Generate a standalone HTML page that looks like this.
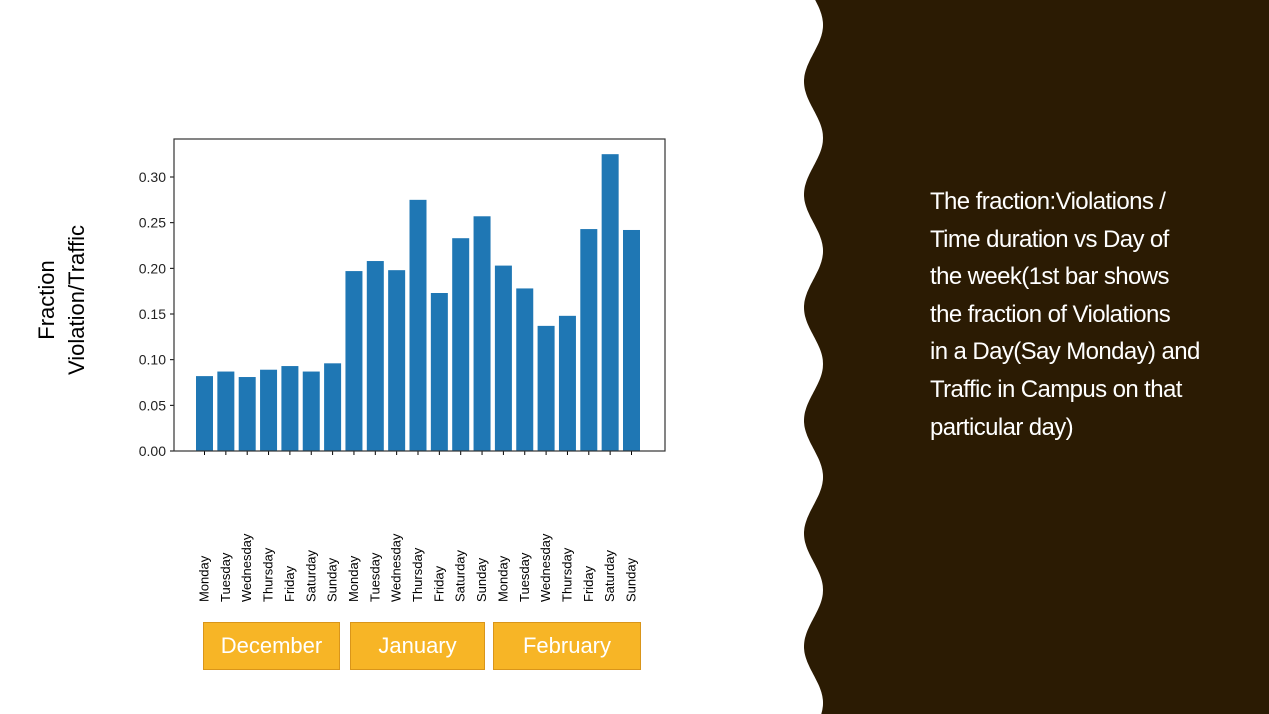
<!DOCTYPE html>
<html><head><meta charset="utf-8"><style>
body{margin:0;width:1269px;height:714px;overflow:hidden;background:#fff;font-family:"Liberation Sans",sans-serif;position:relative}
.month{position:absolute;top:622px;height:48px;background:#f7b526;border:1px solid #d9951a;color:#fff;font-size:22px;display:flex;align-items:center;justify-content:center;box-sizing:border-box}
</style></head><body>
<svg width="1269" height="714" style="position:absolute;left:0;top:0">
<path id="wave" fill="#2b1b03"/>
<g id="chart"></g>
<text transform="translate(54,300) rotate(-90)" text-anchor="middle" font-size="22" fill="#000">Fraction</text>
<text transform="translate(84,300) rotate(-90)" text-anchor="middle" font-size="22" fill="#000">Violation/Traffic</text>
</svg>
<div class="month" style="left:203px;width:137px">December</div>
<div class="month" style="left:350px;width:135px">January</div>
<div class="month" style="left:493px;width:148px">February</div>
<div style="position:absolute;left:930px;top:183px;color:#fff;font-size:24px;line-height:37.6px;white-space:nowrap;letter-spacing:-0.6px">The fraction:Violations /<br>Time duration vs Day of<br>the week(1st bar shows<br>the fraction of Violations<br>in a Day(Say Monday) and<br>Traffic in Campus on that<br>particular day)</div>
<script>
const categories=["Monday","Tuesday","Wednesday","Thursday","Friday","Saturday","Sunday","Monday","Tuesday","Wednesday","Thursday","Friday","Saturday","Sunday","Monday","Tuesday","Wednesday","Thursday","Friday","Saturday","Sunday"];
const values=[0.082,0.087,0.081,0.089,0.093,0.087,0.096,0.197,0.208,0.198,0.275,0.173,0.233,0.257,0.203,0.178,0.137,0.148,0.243,0.325,0.242];
const yTicks=[0,0.05,0.1,0.15,0.2,0.25,0.3];
const yTickLabels=["0.00","0.05","0.10","0.15","0.20","0.25","0.30"];
const NS="http://www.w3.org/2000/svg";
let d="M1269,0 L1269,714 ";
for(let y=714;y>=0;y-=2){const x=813.5+9.5*Math.cos((y-25)/113*2*Math.PI);d+="L"+x.toFixed(1)+","+y+" ";}
d+="Z";document.getElementById('wave').setAttribute('d',d);
const g=document.getElementById('chart');
const L=174,R=665,T=139,B=451;
const y=v=>B-v*913.3;
const x=i=>204.5+i*21.35;
function el(t,a){const e=document.createElementNS(NS,t);for(const k in a)e.setAttribute(k,a[k]);g.appendChild(e);return e;}
values.forEach((v,i)=>{
 const r=el('rect',{x:x(i)-8.5,y:y(v),width:17,height:B-y(v),fill:'#1f77b4'});
 
 
 el('line',{x1:x(i),x2:x(i),y1:B,y2:B+4,stroke:'#000','stroke-width':1});
 const t=el('text',{transform:`translate(${x(i)+4},${602}) rotate(-90)`,'font-size':13,fill:'#000'});
 t.textContent=categories[i];
 
 
});
yTicks.forEach((v,i)=>{
 el('line',{x1:L-4,x2:L,y1:y(v),y2:y(v),stroke:'#000'});
 const t=el('text',{x:L-8,y:y(v)+5,'text-anchor':'end','font-size':14,fill:'#222'});
 t.textContent=yTickLabels[i];
 
 
});
const f=el('rect',{x:L,y:T,width:R-L,height:B-T,fill:'none',stroke:'#333','stroke-width':1.2});


</script>
</body></html>
